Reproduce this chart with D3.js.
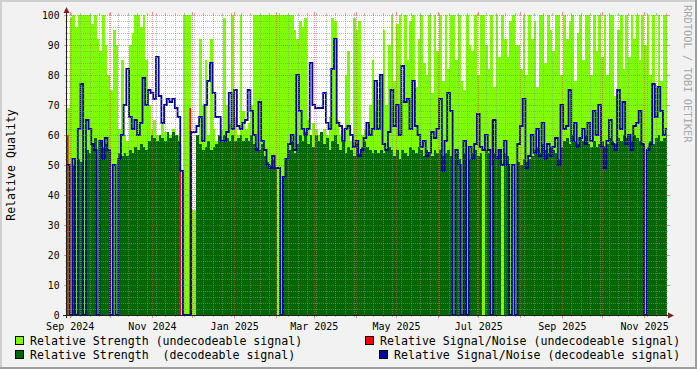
<!DOCTYPE html>
<html>
<head>
<meta charset="utf-8">
<script src="https://cdn.jsdelivr.net/npm/d3@7"></script>
<style>
    body { margin: 0; background: #f2f2f2; }
    svg { display: block; font-family: "DejaVu Sans Mono", monospace; }
</style>
</head>
<body>
<div id="chart"></div>
<script>
// samples every 2 days, first one on 2024-08-30
const startDate = "2024-08-30";
const endDate = "2025-11-18";
const stepDays = 2;

// Relative Strength (undecodeable signal)
const strengthUndecodeable = [
    69, 99, 100, 96, 100, 100, 100, 100, 100, 97,
    100, 92, 88, 100, 90, 80, 75, 95, 90, 62,
    85, 60, 58, 90, 94, 100, 100, 96, 100, 85,
    70, 62, 65, 60, 58, 64, 61, 58, 60, 62,
    58, 60, 0, 100, 100, 100, 35, 35, 60, 92,
    70, 85, 60, 92, 62, 58, 58, 62, 99, 70,
    64, 100, 66, 60, 100, 68, 62, 64, 70, 100,
    100, 100, 100, 100, 100, 100, 100, 100, 100, 100,
    100, 100, 100, 100, 95, 92, 98, 96, 99, 65,
    60, 64, 62, 60, 58, 62, 60, 66, 99, 98,
    65, 60, 62, 80, 88, 58, 99, 95, 98, 60,
    62, 64, 70, 85, 68, 72, 80, 95, 70, 90,
    100, 78, 97, 100, 72, 100, 85, 98, 100, 76,
    92, 100, 84, 80, 100, 74, 100, 88, 100, 78,
    100, 82, 100, 100, 85, 100, 78, 75, 100, 90,
    88, 100, 80, 100, 100, 90, 82, 100, 76, 100,
    86, 100, 92, 86, 98, 100, 90, 90, 82, 100,
    80, 100, 92, 98, 76, 100, 100, 84, 100, 95,
    88, 100, 100, 80, 100, 92, 98, 100, 78, 94,
    100, 85, 100, 100, 80, 100, 88, 100, 86, 100,
    80, 100, 100, 73, 95, 100, 82, 100, 86, 100,
    92, 100, 85, 100, 90, 100, 80, 100, 76, 100,
    78, 100, 100
];

// Relative Strength (decodeable signal), 0 = no decode
const strengthDecodeable = [
    0, 0, 50, 0, 52, 51, 0, 55, 54, 57,
    59, 0, 58, 56, 57, 55, 0, 0, 0, 54,
    53, 54, 53, 55, 54, 56, 55, 57, 56, 55,
    58, 60, 59, 58, 60, 59, 58, 61, 59, 61,
    60, 58, 0, 0, 0, 0, 0, 0, 60, 57,
    55, 56, 58, 55, 56, 57, 60, 58, 60, 59,
    58, 60, 58, 59, 60, 58, 59, 58, 60, 57,
    56, 55, 57, 53, 51, 50, 52, 49, 0, 0,
    46, 52, 55, 58, 54, 57, 60, 58, 61, 57,
    60, 56, 60, 58, 61, 57, 59, 55, 58, 60,
    57, 55, 58, 54, 56, 55, 53, 57, 54, 56,
    58, 56, 55, 54, 55, 54, 55, 54, 55, 56,
    55, 53, 55, 52, 55, 54, 53, 56, 55, 54,
    56, 55, 53, 55, 54, 53, 55, 54, 55, 53,
    54, 55, 53, 0, 54, 52, 0, 54, 0, 52,
    54, 55, 53, 54, 0, 55, 54, 0, 54, 53,
    55, 0, 54, 53, 0, 0, 0, 51, 50, 52,
    51, 52, 53, 55, 56, 54, 57, 55, 54, 56,
    55, 54, 52, 56, 58, 59, 57, 60, 58, 57,
    59, 58, 60, 57, 56, 58, 56, 57, 58, 56,
    57, 59, 58, 57, 59, 58, 60, 59, 60, 58,
    60, 59, 58, 57, 0, 56, 58, 57, 59, 60,
    58, 59, 60
];

// Relative Signal/Noise (decodeable signal)
const snrDecodeable = [
    50, 0, 52, 0, 62, 77, 0, 65, 62, 57,
    55, 0, 58, 52, 59, 55, 0, 50, 0, 52,
    60, 70, 82, 66, 62, 65, 60, 64, 79, 70,
    75, 74, 72, 86, 73, 64, 70, 72, 71, 72,
    69, 66, 48, 0, 0, 0, 61, 61, 63, 66,
    58, 70, 78, 84, 74, 66, 66, 58, 58, 61,
    74, 62, 75, 63, 62, 64, 65, 75, 68, 60,
    55, 71, 58, 55, 50, 49, 53, 49, 49, 0,
    46, 52, 57, 60, 55, 80, 68, 62, 60, 62,
    84, 70, 69, 69, 69, 74, 64, 62, 82, 92,
    64, 63, 58, 62, 63, 60, 56, 58, 53, 55,
    59, 64, 60, 62, 78, 62, 80, 57, 55, 61,
    75, 63, 70, 60, 83, 71, 72, 62, 78, 63,
    60, 56, 58, 53, 54, 61, 59, 62, 72, 48,
    58, 74, 68, 0, 55, 50, 0, 58, 0, 56,
    52, 57, 67, 56, 55, 60, 55, 0, 65, 52,
    55, 50, 58, 50, 0, 50, 0, 57, 63, 72,
    49, 53, 60, 54, 62, 53, 64, 52, 57, 53,
    56, 59, 50, 70, 62, 63, 75, 58, 64, 56,
    59, 62, 57, 64, 58, 68, 60, 70, 56, 49,
    58, 65, 57, 55, 75, 62, 71, 57, 60, 55,
    63, 64, 68, 57, 0, 55, 57, 77, 66, 76,
    68, 60, 62
];

// Relative Signal/Noise (undecodeable signal), only a few readings
const snrUndecodeableDates = ["2024-08-30T12:00Z", "2024-11-22T00:00Z", "2024-11-29T10:00Z", "2025-07-11T14:00Z"];
const snrUndecodeableLow = [0, 0, 0, 50];
const snrUndecodeableHigh = [60, 57, 69, 65];

const yTicks = [0, 10, 20, 30, 40, 50, 60, 70, 80, 90, 100];
const xLabelDates = ["2024-09-01", "2024-11-01", "2025-01-01", "2025-03-01", "2025-05-01", "2025-07-01", "2025-09-01", "2025-11-01"];
const xLabels = ["Sep 2024", "Nov 2024", "Jan 2025", "Mar 2025", "May 2025", "Jul 2025", "Sep 2025", "Nov 2025"];

const legendLabels = [
    "Relative Strength (undecodeable signal)",
    "Relative Signal/Noise (undecodeable signal)",
    "Relative Strength  (decodeable signal)",
    "Relative Signal/Noise (decodeable signal)"
];

const colors = {
    strengthUndec: "#80ff00",
    strengthDec: "#006600",
    snrUndec: "#ff0000",
    snrDec: "#000099",
    grid: "rgba(143,143,143,0.6)",
    mgrid: "rgba(222,79,79,0.6)",
    axis: "#1f1f1f",
    arrow: "#801f1f"
};
const legendColors = [colors.strengthUndec, colors.snrUndec, colors.strengthDec, colors.snrDec];

const W = 697, H = 369;
const X0 = 67, X1 = 667, Y0 = 315, Y1 = 15;

let svg = d3.select("#chart").append("svg")
    .attr("width", W)
    .attr("height", H);

// background + shaded frame
svg.append("rect").attr("width", W).attr("height", H).attr("fill", "#f2f2f2");
svg.append("rect").attr("x", 0).attr("y", 0).attr("width", W).attr("height", 2).attr("fill", "#cfcfcf");
svg.append("rect").attr("x", 0).attr("y", 0).attr("width", 2).attr("height", H).attr("fill", "#cfcfcf");
svg.append("rect").attr("x", 0).attr("y", H - 2).attr("width", W).attr("height", 2).attr("fill", "#9e9e9e");
svg.append("rect").attr("x", W - 2).attr("y", 0).attr("width", 2).attr("height", H).attr("fill", "#9e9e9e");

svg.append("rect")
    .attr("x", X0).attr("y", Y1)
    .attr("width", X1 - X0).attr("height", Y0 - Y1)
    .attr("fill", "#ffffff");

svg.append("clipPath").attr("id", "plotClip")
    .append("rect")
    .attr("x", X0).attr("y", Y1)
    .attr("width", X1 - X0).attr("height", Y0 - Y1);

let x = d3.scaleUtc()
    .domain([new Date(startDate), new Date(endDate)])
    .range([X0, X1]);
let y = d3.scaleLinear()
    .domain([0, 100])
    .range([Y0, Y1]);

function toSteps(values) {
    let start = new Date(startDate);
    let pts = values.map((v, i) => ({date: d3.utcDay.offset(start, i * stepDays), value: v}));
    // close the last step
    pts.push({date: d3.utcDay.offset(start, values.length * stepDays), value: values[values.length - 1]});
    return pts;
}

let area = d3.area()
    .x(d => x(d.date))
    .y0(y(0))
    .y1(d => y(d.value))
    .curve(d3.curveStepAfter);

let line = d3.line()
    .x(d => x(d.date))
    .y(d => y(d.value))
    .curve(d3.curveStepAfter);

let plot = svg.append("g").attr("clip-path", "url(#plotClip)");

plot.append("path")
    .datum(toSteps(strengthUndecodeable))
    .attr("d", area)
    .attr("fill", colors.strengthUndec)
    .attr("shape-rendering", "crispEdges");

plot.append("path")
    .datum(toSteps(strengthDecodeable))
    .attr("d", area)
    .attr("fill", colors.strengthDec)
    .attr("shape-rendering", "crispEdges");

// grid on top of the areas
let grid = svg.append("g");
let minorY = y.ticks(50).filter(v => yTicks.indexOf(v) < 0);

grid.selectAll(".hminor").data(minorY).enter().append("line")
    .attr("x1", X0).attr("x2", X1)
    .attr("y1", d => Math.round(y(d)) + 0.5).attr("y2", d => Math.round(y(d)) + 0.5)
    .attr("stroke", colors.grid).attr("stroke-dasharray", "1,1");

let weeks = d3.utcMonday.range(x.domain()[0], x.domain()[1]);
let months = d3.utcMonth.range(x.domain()[0], x.domain()[1]);
let weeksOnly = weeks.filter(d => d.getUTCDate() !== 1);

grid.selectAll(".vminor").data(weeksOnly).enter().append("line")
    .attr("x1", d => Math.round(x(d)) + 0.5).attr("x2", d => Math.round(x(d)) + 0.5)
    .attr("y1", Y1).attr("y2", Y0)
    .attr("stroke", colors.grid).attr("stroke-dasharray", "1,1");

// small stubs outside the canvas
grid.selectAll(".hminorStub").data(minorY).enter().append("path")
    .attr("d", d => {
        let yy = Math.round(y(d)) + 0.5;
        return `M${X0 - 2},${yy}H${X0 - 1}M${X1},${yy}H${X1 + 1}`;
    })
    .attr("stroke", colors.grid);
grid.selectAll(".vminorStub").data(weeksOnly).enter().append("path")
    .attr("d", d => {
        let xx = Math.round(x(d)) + 0.5;
        return `M${xx},${Y1 - 2}V${Y1}M${xx},${Y0}V${Y0 + 2}`;
    })
    .attr("stroke", colors.grid);

grid.selectAll(".hmajor").data(yTicks).enter().append("line")
    .attr("x1", X0).attr("x2", X1)
    .attr("y1", d => Math.round(y(d)) + 0.5).attr("y2", d => Math.round(y(d)) + 0.5)
    .attr("stroke", colors.mgrid).attr("stroke-dasharray", "1,1");
grid.selectAll(".hmajorStub").data(yTicks).enter().append("path")
    .attr("d", d => {
        let yy = Math.round(y(d)) + 0.5;
        return `M${X0 - 3},${yy}H${X0}M${X1},${yy}H${X1 + 3}`;
    })
    .attr("stroke", colors.mgrid);

grid.selectAll(".vmajor").data(months).enter().append("line")
    .attr("x1", d => Math.round(x(d)) + 0.5).attr("x2", d => Math.round(x(d)) + 0.5)
    .attr("y1", Y1).attr("y2", Y0)
    .attr("stroke", colors.mgrid).attr("stroke-dasharray", "1,1");
grid.selectAll(".vmajorStub").data(months).enter().append("path")
    .attr("d", d => {
        let xx = Math.round(x(d)) + 0.5;
        return `M${xx},${Y1 - 3}V${Y1}M${xx},${Y0}V${Y0 + 3}`;
    })
    .attr("stroke", colors.mgrid);

// S/N lines
let vline = d3.line()
    .x(d => x(d.date))
    .y(d => y(d.value));

plot.selectAll(".snrUndec")
    .data(snrUndecodeableDates)
    .enter().append("path")
    .attr("d", (d, i) => vline([
        {date: new Date(d), value: snrUndecodeableLow[i]},
        {date: new Date(d), value: snrUndecodeableHigh[i]}
    ]))
    .attr("stroke", colors.snrUndec)
    .attr("stroke-width", 1.8)
    .attr("fill", "none");

plot.append("path")
    .datum(toSteps(snrDecodeable))
    .attr("d", line)
    .attr("fill", "none")
    .attr("stroke", colors.snrDec)
    .attr("stroke-width", 1.8);

// axes
svg.append("line")
    .attr("x1", X0 - 0.5).attr("x2", X0 - 0.5)
    .attr("y1", Y0 + 3).attr("y2", Y1 - 4)
    .attr("stroke", colors.axis);
svg.append("line")
    .attr("x1", X0 - 4).attr("x2", X1 + 3)
    .attr("y1", Y0 + 0.5).attr("y2", Y0 + 0.5)
    .attr("stroke", colors.axis);
svg.append("path")
    .attr("d", `M${X0 - 3.5},${Y1 - 2}L${X0 + 2.5},${Y1 - 2}L${X0 - 0.5},${Y1 - 8}Z`)
    .attr("fill", colors.arrow);
svg.append("path")
    .attr("d", `M${X1 + 1},${Y0 - 2.5}L${X1 + 1},${Y0 + 3.5}L${X1 + 7},${Y0 + 0.5}Z`)
    .attr("fill", colors.arrow);

// axis labels via d3 axes
let yAxis = svg.append("g")
    .attr("transform", `translate(${X0 - 4},0)`)
    .call(d3.axisLeft(y).tickValues(yTicks).tickSize(0).tickPadding(3.5));
yAxis.select(".domain").remove();
yAxis.selectAll("text")
    .attr("font-family", "DejaVu Sans Mono")
    .attr("font-size", "9.7px")
    .attr("fill", "#000");

let xAxis = svg.append("g")
    .attr("transform", `translate(0,${Y0})`)
    .call(d3.axisBottom(x)
        .tickValues(xLabelDates.map(d => new Date(d)))
        .tickFormat((d, i) => xLabels[i])
        .tickSize(0)
        .tickPadding(7.5));
xAxis.select(".domain").remove();
xAxis.selectAll("text")
    .attr("font-family", "DejaVu Sans Mono")
    .attr("font-size", "10px")
    .attr("fill", "#000");

svg.append("text")
    .attr("transform", "translate(15,165) rotate(-90)")
    .attr("text-anchor", "middle")
    .attr("font-size", "11.6px")
    .attr("fill", "#000")
    .text("Relative Quality");

svg.append("text")
    .attr("transform", "translate(683.5,5) rotate(90)")
    .attr("font-size", "10.4px")
    .attr("fill", "#a8a8a8")
    .text("RRDTOOL / TOBI OETIKER");

// legend
let legendPos = [[15.5, 336.5], [365.5, 336.5], [15.5, 350.5], [379.5, 350.5]];
let legend = svg.append("g").selectAll("g")
    .data(legendLabels)
    .enter().append("g")
    .attr("transform", (d, i) => `translate(${legendPos[i][0]},${legendPos[i][1]})`);
legend.append("rect")
    .attr("width", 8).attr("height", 8)
    .attr("fill", (d, i) => legendColors[i])
    .attr("stroke", "#000");
legend.append("text")
    .attr("x", 14.5)
    .attr("y", 8.3)
    .attr("font-size", "11.6px")
    .attr("fill", "#000")
    .style("white-space", "pre")
    .text(d => d);
</script>
</body>
</html>
